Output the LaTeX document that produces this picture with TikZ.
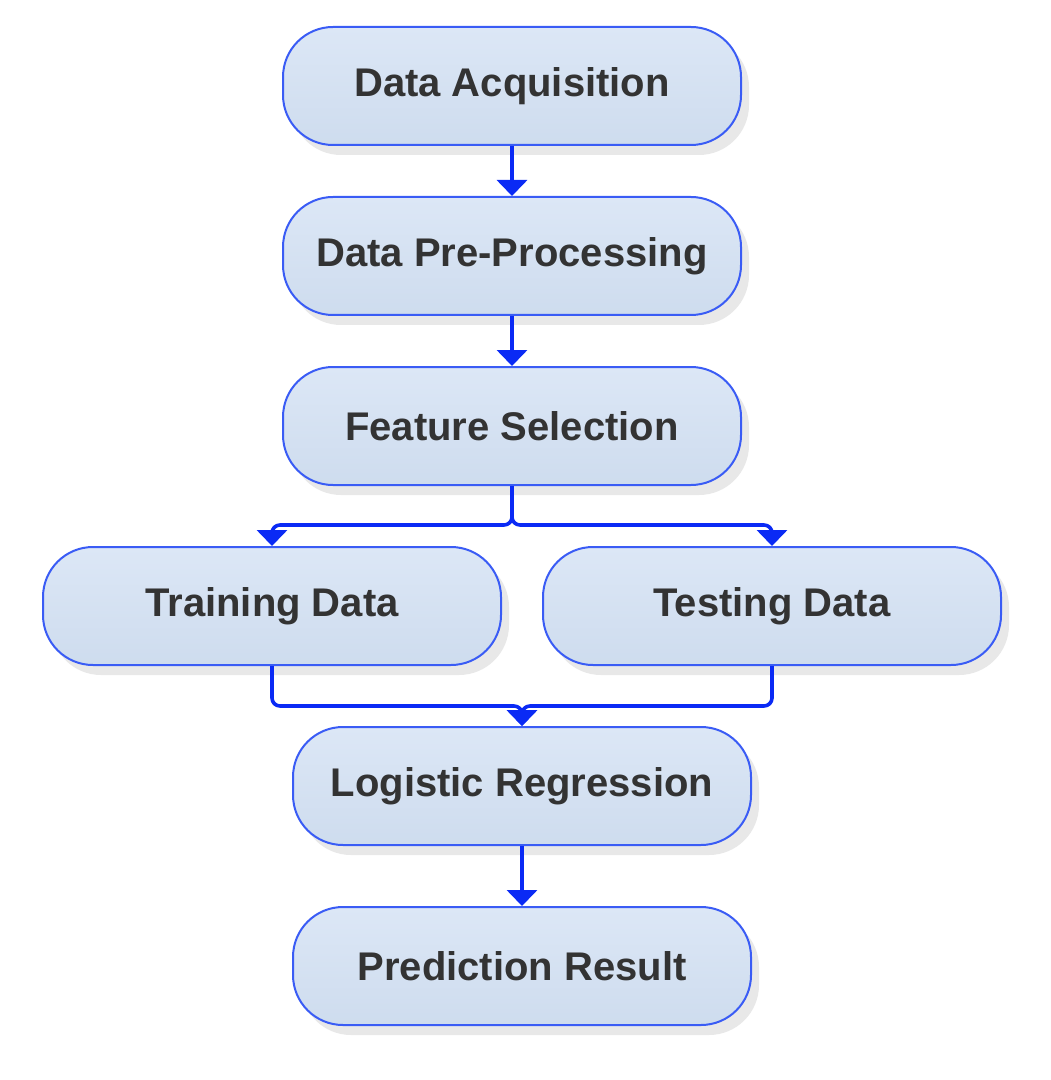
\documentclass[tikz,border=0pt]{standalone}
\usepackage{fontspec}
\setmainfont{Liberation Sans}
\usetikzlibrary{arrows.meta,shadows}
\definecolor{boxline}{HTML}{3A5CF5}
\definecolor{boxtop}{HTML}{DCE7F6}
\definecolor{boxbot}{HTML}{CEDCEE}
\definecolor{flow}{HTML}{0A2AF5}
\definecolor{txt}{HTML}{333333}
\begin{document}
\begin{tikzpicture}[x=0.5pt,y=-0.5pt,
    stage/.style={draw=boxline,line width=1pt,rounded corners=25pt,
        top color=boxtop,bottom color=boxbot,
        minimum width=229pt,minimum height=59pt,
        drop shadow={opacity=0.18,shadow xshift=4pt,shadow yshift=-5pt},
        text=txt,font=\fontsize{20}{24}\selectfont\bfseries},
    flowline/.style={draw=flow,line width=1.8pt,rounded corners=4pt,
        -{Triangle[width=15pt,length=8pt]}}]
    \useasboundingbox (0,0) rectangle (1050,1080);

    \node[stage] (acq) at (512,86) {Data Acquisition};
    \node[stage] (pre) at (512,256) {Data Pre-Processing};
    \node[stage] (feat) at (512,426) {Feature Selection};
    \node[stage] (train) at (272,606) {Training Data};
    \node[stage] (test) at (772,606) {Testing Data};
    \node[stage] (logreg) at (522,786) {Logistic Regression};
    \node[stage] (result) at (522,966) {Prediction Result};

    \draw[flowline] (acq) -- (pre);
    \draw[flowline] (pre) -- (feat);
    % split into the two data sets
    \draw[flowline] (feat.south) |- (512,525) -| (train.north);
    \draw[flowline] (feat.south) |- (512,525) -| (test.north);
    % merge back
    \draw[flowline] (train.south) |- (522,706) -- (logreg.north);
    \draw[flowline] (test.south) |- (522,706) -- (logreg.north);
    \draw[flowline] (logreg) -- (result);
\end{tikzpicture}
\end{document}
